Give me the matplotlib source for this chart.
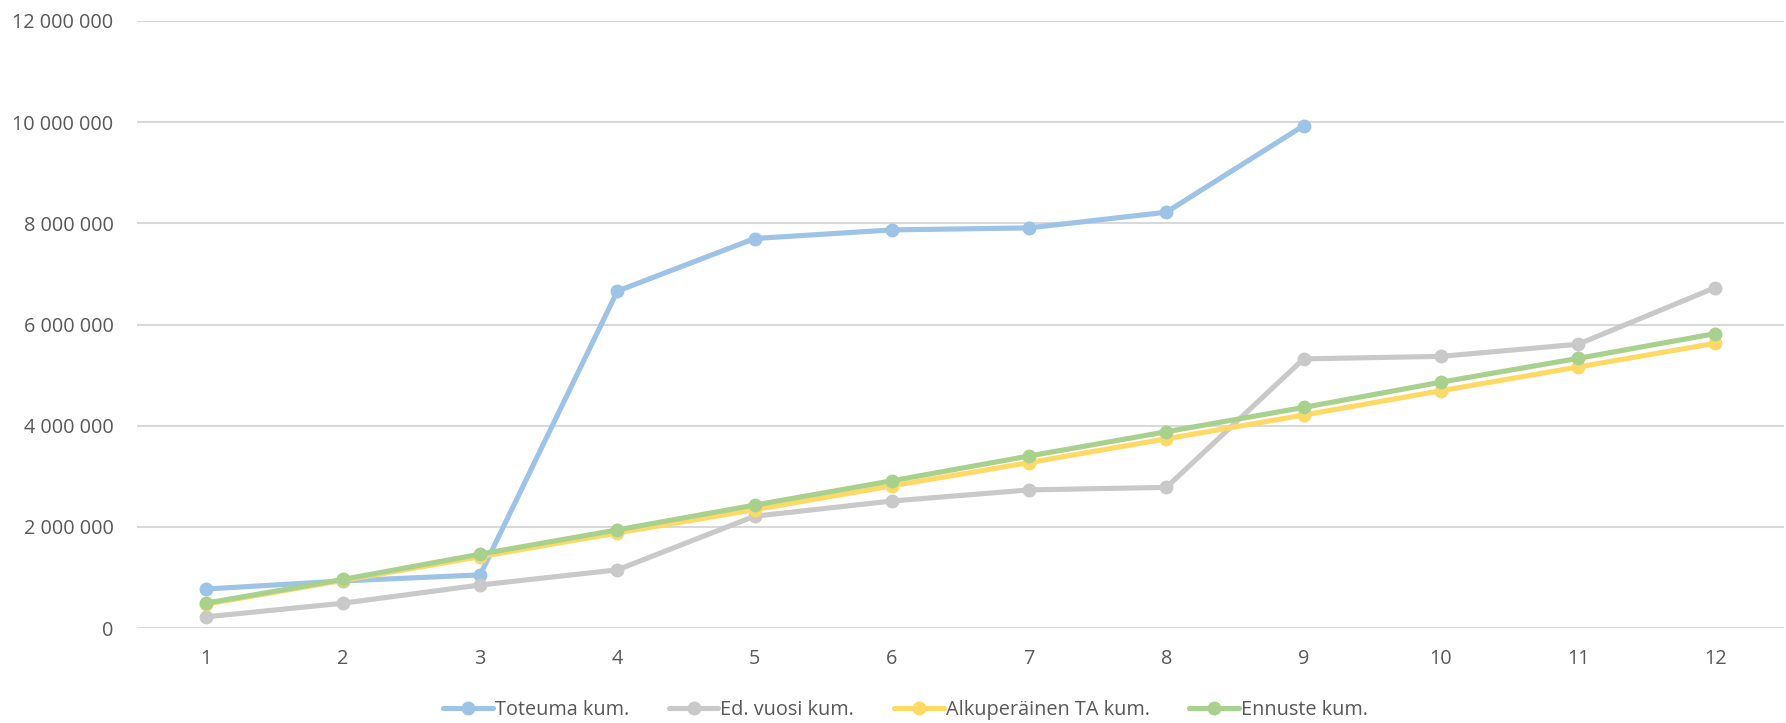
import matplotlib
matplotlib.use('Agg')
import matplotlib.pyplot as plt
from matplotlib.ticker import FuncFormatter, MultipleLocator

# Data (in euros)
months = [1, 2, 3, 4, 5, 6, 7, 8, 9, 10, 11, 12]
toteuma = [770000, 930000, 1050000, 6660000, 7700000, 7870000, 7910000, 8220000, 9930000]
ed_vuosi = [220000, 490000, 850000, 1150000, 2210000, 2510000, 2730000, 2780000,
            5320000, 5370000, 5610000, 6730000]
alkuperainen = [470000, 940000, 1410000, 1880000, 2340000, 2810000, 3270000, 3740000,
                4210000, 4690000, 5160000, 5630000]
ennuste = [490000, 960000, 1460000, 1940000, 2430000, 2910000, 3400000, 3880000,
           4360000, 4860000, 5330000, 5820000]

series = [
    ('Toteuma kum.', toteuma, '#9DC3E6'),
    ('Ed. vuosi kum.', ed_vuosi, '#C9C9C9'),
    ('Alkuperäinen TA kum.', alkuperainen, '#FFD966'),
    ('Ennuste kum.', ennuste, '#A9D18E'),
]

plt.rcParams['font.family'] = ['Open Sans', 'DejaVu Sans']
text_color = '#595959'

fig = plt.figure(figsize=(17.86, 7.23), dpi=100)
ax = fig.add_axes([137 / 1786, 1 - 628 / 723, (1784 - 137) / 1786, (628 - 21) / 723])

for name, vals, col in series:
    ax.plot(months[:len(vals)], vals, color=col, lw=3.7, marker='o', ms=9,
            solid_capstyle='round', label=name, zorder=3)

ax.set_xlim(0.5, 12.5)
ax.set_ylim(0, 12000000)
ax.set_xticks(months)
ax.yaxis.set_major_locator(MultipleLocator(2000000))
ax.yaxis.set_major_formatter(FuncFormatter(lambda v, p: f'{int(v):,}'.replace(',', ' ')))
ax.grid(axis='y', color='#D9D9D9', lw=1.5, zorder=0)
ax.set_axisbelow(True)
for s in ax.spines.values():
    s.set_visible(False)
ax.tick_params(axis='both', length=0, labelsize=14.3, labelcolor=text_color)
ax.tick_params(axis='y', pad=17)
ax.tick_params(axis='x', pad=15)

fig.legend(loc='center', bbox_to_anchor=(0.507, 1 - 710 / 723), ncol=4,
           frameon=False, fontsize=14.3, labelcolor=text_color,
           handlelength=2.5, handletextpad=0.1, columnspacing=2.0)

fig.savefig('out.png', dpi=100)
